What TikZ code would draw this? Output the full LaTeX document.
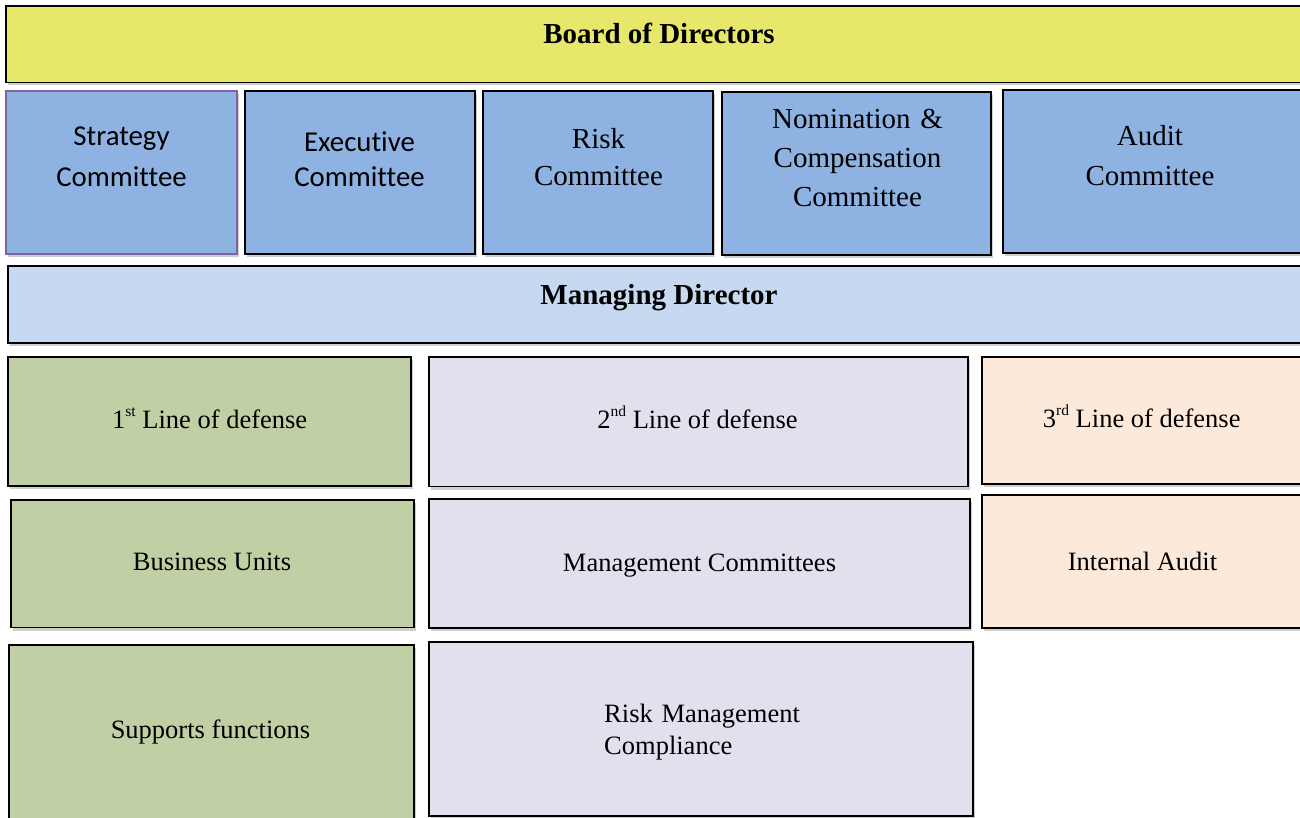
\documentclass[tikz,border=0pt]{standalone}
\usepackage{fontspec}
\setmainfont{Liberation Serif}
\newfontfamily\calibrifont[Ligatures=NoCommon]{Carlito}
\newcommand\supx[1]{\raisebox{11.5pt}{\fontsize{15.5}{16}\selectfont #1}}
\usetikzlibrary{shadows,fit}
\definecolor{boardY}{HTML}{E6E76B}
\definecolor{commB}{HTML}{8EB3E2}
\definecolor{mgrB}{HTML}{C6D9F0}
\definecolor{greenL}{HTML}{C0CFA4}
\definecolor{lavL}{HTML}{E4DFEC}
\definecolor{peachL}{HTML}{FCE9DA}
\definecolor{purpB}{HTML}{8064A2}
\begin{document}
\begin{tikzpicture}[x=1pt,y=-1pt,
  box/.style={rectangle, draw=black, line width=1.8pt, inner sep=0pt, outer sep=0pt,
    drop shadow={shadow xshift=2pt, shadow yshift=-3pt, fill=black!55, opacity=0.35}},
  sl/.style={inner sep=0pt, anchor=base},
  ml/.style={inner sep=0pt, anchor=base, align=center, text width=260pt},
  big/.style={font=\fontsize{26.5}{31}\selectfont}]
\useasboundingbox (0,0) rectangle (1300,818);
% boxes
\node[box, fill=boardY, fit={(6,6) (1312,82.5)}] (board) {};
\node[box, fill=commB, draw=purpB, line width=1.2pt, fit={(6,91) (237,254)}] (strat) {};
\node[box, fill=commB, fit={(245,91) (475,254)}] (exec) {};
\node[box, fill=commB, fit={(483,91) (713,254)}] (risk) {};
\node[box, fill=commB, fit={(722,92) (991,255)}] (nom) {};
\node[box, fill=commB, fit={(1003,90) (1312,253)}] (aud) {};
\node[box, fill=mgrB, fit={(8,266) (1312,343)}] (mgr) {};
\node[box, fill=greenL, fit={(8,357) (411,486)}] (l1) {};
\node[box, fill=lavL, fit={(429,357) (968,486.5)}] (l2) {};
\node[box, fill=peachL, fit={(982,357) (1312,484)}] (l3) {};
\node[box, fill=greenL, fit={(11,500) (414,627.5)}] (bu) {};
\node[box, fill=lavL, fit={(429,499) (970,628)}] (mc) {};
\node[box, fill=peachL, fit={(982,495) (1312,628)}] (ia) {};
\node[box, fill=greenL, fit={(9,645) (414,830)}] (sf) {};
\node[box, fill=lavL, fit={(429,642) (973,816)}] (rm) {};
% texts
\node[sl, font=\bfseries\fontsize{29}{34}\selectfont] (tboard) at (659,44) {Board of Directors};
\node[ml, text width=220pt, font=\calibrifont\fontsize{28.8}{41}\selectfont] (tstrat) at (121.5,145.7) {Strategy\\Committee};
\node[ml, text width=220pt, font=\calibrifont\fontsize{28.8}{35}\selectfont] (texec) at (359.5,151.7) {Executive\\Committee};
\node[ml, text width=220pt, font=\fontsize{29}{37.7}\selectfont] (trisk) at (598.5,148.3) {Risk\\Committee};
\node[ml, text width=250pt, font=\fontsize{29}{39}\selectfont] (tnom) at (857.5,128.7) {Nomination \&\\Compensation\\Committee};
\node[ml, text width=250pt, font=\fontsize{29}{39.5}\selectfont] (taud) at (1150,145.7) {Audit\\Committee};
\node[sl, font=\bfseries\fontsize{29}{34}\selectfont] (tmgr) at (659,304) {Managing Director};
\node[sl, big] (tl1) at (209.7,428.3) {1\supx{st} Line of defense};
\node[sl, big] (tl2) at (697.5,428.3) {2\supx{nd} Line of defense};
\node[sl, big] (tl3) at (1141.7,427.3) {3\supx{rd} Line of defense};
\node[sl, big] (tbu) at (212,570.7) {Business Units};
\node[sl, big] (tmc) at (699.5,571.5) {Management Committees};
\node[sl, big] (tia) at (1142.5,570) {Internal Audit};
\node[sl, big] (tsf) at (210.5,738.3) {Supports functions};
\node[inner sep=0pt, anchor=base west, align=left, text width=300pt, font=\fontsize{26.5}{31.3}\selectfont] (trm) at (604,722.7) {Risk Management\\Compliance};
\end{tikzpicture}
\end{document}
